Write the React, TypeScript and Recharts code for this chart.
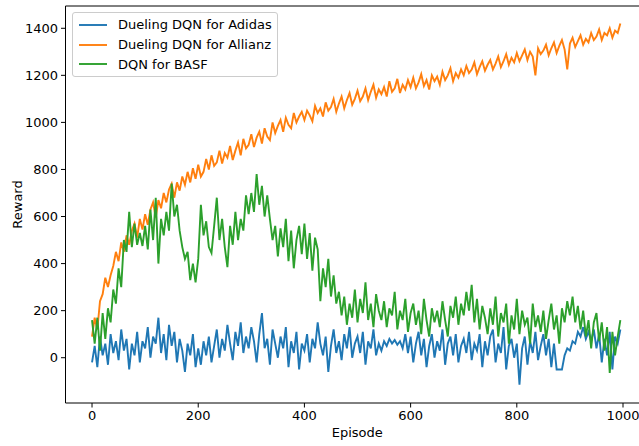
import React from 'react';
import { LineChart, Line, XAxis, YAxis, ReferenceLine } from 'recharts';

// Episode index step used when sampling the curves off the picture
const episodeStep = 5;

// Dueling DQN for Adidas (values at episodes 0,5,...,995)
const adidas: number[] = [
  -20, 50, -40, 90, 10, 60, -30, 100, 20, 70,
  -10, 120, 30, 80, -50, 60, 10, 110, -20, 70,
  40, 130, 0, 90, 60, 170, 20, 100, -10, 140,
  50, 110, -20, 80, 30, -60, 60, 10, 100, -40,
  40, -30, 70, 10, 90, -20, 50, 120, 0, 80,
  30, 140, 60, -10, 110, 50, 150, 20, 90, 40,
  130, 70, -20, 100, 190, 40, 80, -30, 120, 60,
  0, 90, 40, 130, -40, 70, 20, 110, -50, 60,
  30, 100, -20, 80, 40, 150, 60, 10, 90, -60,
  50, 120, 20, 70, -10, 100, 40, 130, 0, 60,
  90, 20, 110, -30, 70, 40, 120, 10, 60, 30,
  70, 50, 80, 60, 75, 55, 70, 40, 100, 20,
  90, -20, 60, 110, 10, 80, -40, 50, 100, 0,
  70, 30, 120, -30, 60, 90, 10, 100, -20, 50,
  80, 20, 110, -10, 60, 30, 100, -40, 70, 10,
  90, 120, -20, 60, 20, 130, -50, 50, 80, 0,
  60, -115, 40, 90, -30, 70, 20, 110, -10, 50,
  100, 10, 80, -40, 60, -50, -50, -50, 10, 40,
  30, 70, 60, 110, 90, 130, 80, 110, 70, 120,
  40, 100, -20, 80, 10, 110, -50, 90, 60, 120,
];

// Dueling DQN for Allianz
const allianz: number[] = [
  90, 170, 120, 240, 270, 340, 300, 350, 390, 450,
  410, 490, 450, 520, 480, 540, 570, 510, 590, 545,
  610, 565, 630, 660, 595, 670, 635, 700, 660, 715,
  740, 680, 745, 710, 770, 735, 790, 745, 805, 760,
  820, 770, 790, 845, 800, 860, 815, 830, 880, 825,
  870, 850, 900, 840, 880, 915, 860, 930, 890, 905,
  950, 895, 935, 960, 910, 975, 940, 925, 1000, 955,
  985, 1010, 960, 1020, 990, 975, 1040, 1000, 1025, 1045,
  1010, 1050, 1030, 1005, 1070, 1040, 1060, 1025, 1085, 1050,
  1065, 1100, 1045, 1080, 1110, 1060, 1095, 1125, 1075, 1100,
  1135, 1090, 1110, 1145, 1095, 1130, 1160, 1105, 1140, 1120,
  1150, 1110, 1175, 1130, 1145, 1185, 1125, 1160, 1140, 1180,
  1150, 1190, 1145, 1170, 1205, 1155, 1180, 1140, 1200, 1175,
  1195, 1160, 1215, 1180, 1200, 1230, 1175, 1210, 1190, 1225,
  1200, 1240, 1210, 1225, 1255, 1205, 1235, 1260, 1220, 1245,
  1265, 1225, 1250, 1280, 1235, 1260, 1290, 1245, 1275, 1255,
  1295, 1260, 1285, 1310, 1265, 1300, 1280, 1200, 1315, 1290,
  1305, 1330, 1285, 1315, 1340, 1295, 1325, 1350, 1310, 1225,
  1335, 1360, 1320, 1345, 1370, 1330, 1355, 1340, 1380, 1350,
  1365, 1395, 1350, 1380, 1370, 1400, 1360, 1390, 1380, 1420,
];

// DQN for BASF
const basf: number[] = [
  160, 60, 170, 30, 190, 80, 210, 150, 290, 230,
  380, 300, 500, 450, 620, 470, 570, 480, 530, 475,
  560, 460, 630, 500, 680, 400, 590, 520, 620, 540,
  740, 600, 650, 540, 470, 420, 450, 330, 400, 320,
  420, 650, 520, 580, 470, 445, 560, 680, 500, 590,
  470, 385, 560, 480, 620, 500, 590, 540, 690, 610,
  700, 620, 780, 650, 730, 600, 690, 590, 500, 560,
  430, 550, 470, 590, 410, 540, 380, 500, 560, 440,
  570, 420, 530, 370, 510, 460, 240, 380, 300, 420,
  260, 350, 230, 280, 180, 260, 140, 230, 170, 290,
  150, 250, 190, 320, 160, 230, 130, 270, 200, 160,
  240, 130, 210, 180, 280, 120, 200, 160, 250, 110,
  190, 230, 140, 200, 100, 250, 160, 90, 210, 150,
  200, 130, 240, 160, 90, 220, 170, 260, 140, 230,
  180, 280, 200, 310, 150, 250, 120, 220, 170, 100,
  210, 140, 260, 90, 190, 150, 230, 60, 180, 120,
  250, 100, 200, 140, 170, 60, 230, 130, 180, 110,
  200, 80, 160, 230, 120, 180, 60, 210, 150, 240,
  180, 260, 150, 220, 120, 200, 90, 160, 40, 150,
  190, 70, 150, 30, 130, -65, 110, 10, 90, 160,
];

const seriesNames = ['Dueling DQN for Adidas', 'Dueling DQN for Allianz', 'DQN for BASF'];
const seriesColors = ['#1f77b4', '#ff7f0e', '#2ca02c'];
const xTicks = [0, 200, 400, 600, 800, 1000];
const yTicks = [0, 200, 400, 600, 800, 1000, 1200, 1400];
const X_DOMAIN: [number, number] = [-49.95, 1048.95];
const Y_DOMAIN: [number, number] = [-192.5, 1494.7];

const data = adidas.map((v, i) => ({
  ep: i * episodeStep,
  adidas: v,
  allianz: allianz[i],
  basf: basf[i],
}));

const FONT = 'DejaVu Sans';
const LINE_W = 1.9;

const LegendBox = () => (
  <div
    style={{
      position: 'absolute',
      left: 72,
      top: 12,
      border: '1px solid #cccccc',
      borderRadius: 3,
      background: 'rgba(255,255,255,0.8)',
      padding: '2px 5px 2px 6px',
      fontFamily: FONT,
      fontSize: 13,
      lineHeight: 1,
      color: '#000',
    }}
  >
    {seriesNames.map((n, i) => (
      <div key={n} style={{ display: 'flex', alignItems: 'center', height: 19.8 }}>
        <svg width={28} height={4} style={{ marginRight: 11 }}>
          <line x1={0} y1={2} x2={28} y2={2} stroke={seriesColors[i]} strokeWidth={LINE_W} />
        </svg>
        <span style={{ whiteSpace: 'nowrap' }}>{n}</span>
      </div>
    ))}
  </div>
);

export default function App() {
  const tickStyle = { fontFamily: FONT, fontSize: 13, fill: '#000' };
  return (
    <div style={{ position: 'absolute', left: 0, top: 0, width: 639, height: 446, overflow: 'hidden', background: '#fff' }}>
      <LineChart width={660} height={446} data={data} margin={{ top: 6, right: 11, bottom: 0, left: 0 }}>
        <XAxis
          dataKey="ep"
          type="number"
          domain={X_DOMAIN}
          ticks={xTicks}
          allowDataOverflow
          height={43}
          tickSize={4.5}
          tickMargin={3}
          stroke="#000"
          strokeWidth={1}
          tick={tickStyle}
          label={{ value: 'Episode', position: 'center', dy: 8, style: { fontFamily: FONT, fontSize: 13, fill: '#000' } }}
        />
        <YAxis
          type="number"
          domain={Y_DOMAIN}
          ticks={yTicks}
          allowDataOverflow
          width={65.5}
          tickSize={4.5}
          tickMargin={3}
          stroke="#000"
          strokeWidth={1}
          tick={tickStyle}
          label={{ value: 'Reward', angle: -90, position: 'center', dx: -15, style: { fontFamily: FONT, fontSize: 13, fill: '#000' } }}
        />
        <ReferenceLine y={Y_DOMAIN[1]} stroke="#000" strokeWidth={1} />
        <Line dataKey="adidas" name={seriesNames[0]} stroke={seriesColors[0]} strokeWidth={LINE_W} dot={false} isAnimationActive={false} />
        <Line dataKey="allianz" name={seriesNames[1]} stroke={seriesColors[1]} strokeWidth={LINE_W} dot={false} isAnimationActive={false} />
        <Line dataKey="basf" name={seriesNames[2]} stroke={seriesColors[2]} strokeWidth={LINE_W} dot={false} isAnimationActive={false} />
      </LineChart>
      <LegendBox />
    </div>
  );
}
